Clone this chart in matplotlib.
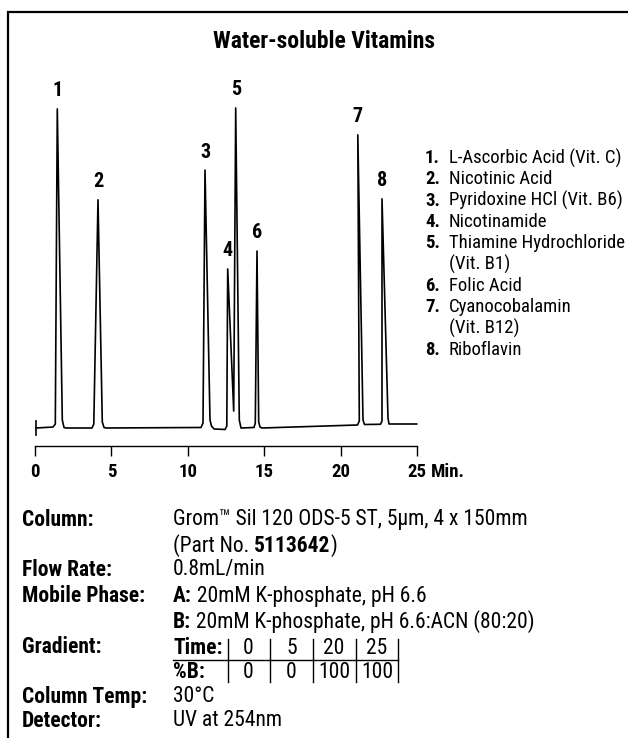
import matplotlib.pyplot as plt

plt.rcParams['font.family'] = ['Roboto Condensed', 'DejaVu Sans']

# Chromatogram trace: time (min) and detector signal (arbitrary units)
trace_time = [0.065, 1.178, 1.329, 1.459, 1.787, 1.898, 2.029,
              3.730, 3.848, 4.123, 4.404, 4.516, 4.647,
              10.864, 10.995, 11.126, 11.453, 11.551, 11.715, 12.435,
              12.552, 12.611, 13.004, 13.135, 13.370, 13.482,
              14.332, 14.417, 14.529, 14.640, 14.725, 14.856,
              21.106, 21.224, 21.126, 21.466, 21.564, 21.662,
              22.611, 22.709, 22.709, 23.102, 23.168, 23.298,
              24.98]
trace_signal = [0.0, 0.3, 1.25, 99.7, 2.5, 0.16, 0.0,
                0.0, 1.25, 71.3, 1.9, 0.16, 0.0,
                0.16, 1.56, 80.6, 2.5, 0.6, -0.3, -0.47,
                0.6, 49.7, 5.3, 100.0, 2.5, 0.0,
                0.16, 1.56, 55.3, 1.9, 0.3, 0.0,
                0.94, 2.2, 91.6, 2.5, 1.1, 1.1,
                1.16, 2.2, 71.6, 3.1, 1.25, 1.25,
                1.25]
inject_time = 0.05

# Peak apexes used for the number labels
peak_numbers = ['1', '2', '3', '4', '5', '6', '7', '8']
peak_time = [1.46, 4.12, 11.13, 12.61, 13.14, 14.53, 21.13, 22.71]
peak_height = [99.7, 71.3, 80.6, 49.7, 100.0, 55.3, 91.6, 71.6]

compounds = ['L-Ascorbic Acid (Vit. C)', 'Nicotinic Acid', 'Pyridoxine HCl (Vit. B6)',
             'Nicotinamide', 'Thiamine Hydrochloride\n(Vit. B1)', 'Folic Acid',
             'Cyanocobalamin\n(Vit. B12)', 'Riboflavin']

x_ticks = [0, 5, 10, 15, 20, 25]

grad_time = ['0', '5', '20', '25']
grad_b = ['0', '0', '100', '100']

W, H = 628, 738
fig = plt.figure(figsize=(W / 100, H / 100), dpi=100)

# overlay in pixel coordinates for the frame and the text block
ov = fig.add_axes([0, 0, 1, 1])
ov.set_xlim(0, W)
ov.set_ylim(H, 0)
ov.axis('off')
ov.patch.set_visible(False)

ov.plot([8, 8, W], [H, 12, 12], color='black', lw=1.6, solid_joinstyle='miter')
ov.text(324, 41, 'Water-soluble Vitamins', ha='center', va='center',
        fontsize=17, fontweight='bold')

# chromatogram axes: x 0..25 -> px 35..417
ax = fig.add_axes([35 / W, 1 - 460 / H, 382 / W, 400 / H])
ax.patch.set_visible(False)
ax.set_xlim(0, 25)
ax.set_ylim(-10, 115)
ax.plot(trace_time, trace_signal, color='black', lw=1.2, clip_on=False)
ax.plot([inject_time, inject_time], [-2.2, 2.2], color='black', lw=1.2, clip_on=False)

for num, t, h in zip(peak_numbers, peak_time, peak_height):
    ax.annotate(num, (t, h), xytext=(0, 13), textcoords='offset points',
                ha='center', va='center', fontsize=14.5, fontweight='bold')

for s in ['top', 'right', 'left']:
    ax.spines[s].set_visible(False)
ax.spines['bottom'].set_position(('data', -5.6))
ax.spines['bottom'].set_linewidth(1.0)
ax.set_yticks([])
ax.set_xticks(x_ticks)
ax.set_xticklabels([str(v) for v in x_ticks], fontsize=13.5, fontweight='bold')
ax.tick_params(axis='x', direction='out', length=7.5, width=1.0, pad=5)
ov.text(431, 472, 'Min.', ha='left', va='center', fontsize=13.5, fontweight='bold')

# compound list
y = 158
for i, name in enumerate(compounds):
    ov.text(425, y, f'{i + 1}.', ha='left', va='center', fontsize=13.5, fontweight='bold')
    for line in name.split('\n'):
        ov.text(449, y, line, ha='left', va='center', fontsize=13.5)
        y += 21.3

# conditions block
fs = 15.5
lx, vx = 22, 173


def row(y, label, parts):
    if label:
        ov.text(lx, y, label, ha='left', va='center', fontsize=fs, fontweight='bold')
    prev = None
    for txt, bold in parts:
        w = 'bold' if bold else 'normal'
        if prev is None:
            prev = ov.text(vx, y, txt, ha='left', va='center', fontsize=fs, fontweight=w)
        else:
            prev = ov.annotate(txt, xy=(1, 0), xycoords=prev, ha='left', va='bottom',
                               fontsize=fs, fontweight=w)


row(520, 'Column:', [('Grom™ Sil 120 ODS-5 ST, 5µm, 4 x 150mm', False)])
row(546, None, [('(Part No. ', False), ('5113642', True), (')', False)])
row(570, 'Flow Rate:', [('0.8mL/min', False)])
row(596, 'Mobile Phase:', [('A:', True), (' 20mM K-phosphate, pH 6.6', False)])
row(622, None, [('B:', True), (' 20mM K-phosphate, pH 6.6:ACN (80:20)', False)])
row(647, 'Gradient:', [])
row(697, 'Column Temp:', [('30°C', False)])
row(721, 'Detector:', [('UV at 254nm', False)])

# gradient table
col_x = [248, 291.5, 334, 377]
bar_x = [227.5, 269.5, 312.5, 355.5, 398]
ov.text(vx, 648, 'Time:', ha='left', va='center', fontsize=fs, fontweight='bold')
ov.text(vx, 672, '%B:', ha='left', va='center', fontsize=fs, fontweight='bold')
for cx, tv, bv in zip(col_x, grad_time, grad_b):
    ov.text(cx, 648, tv, ha='center', va='center', fontsize=fs)
    ov.text(cx, 672, bv, ha='center', va='center', fontsize=fs)
ov.plot([173, 398], [660, 660], color='black', lw=1.0)
for bx in bar_x:
    ov.plot([bx, bx], [639, 682], color='black', lw=1.0)

fig.savefig('out.png', dpi=100)
